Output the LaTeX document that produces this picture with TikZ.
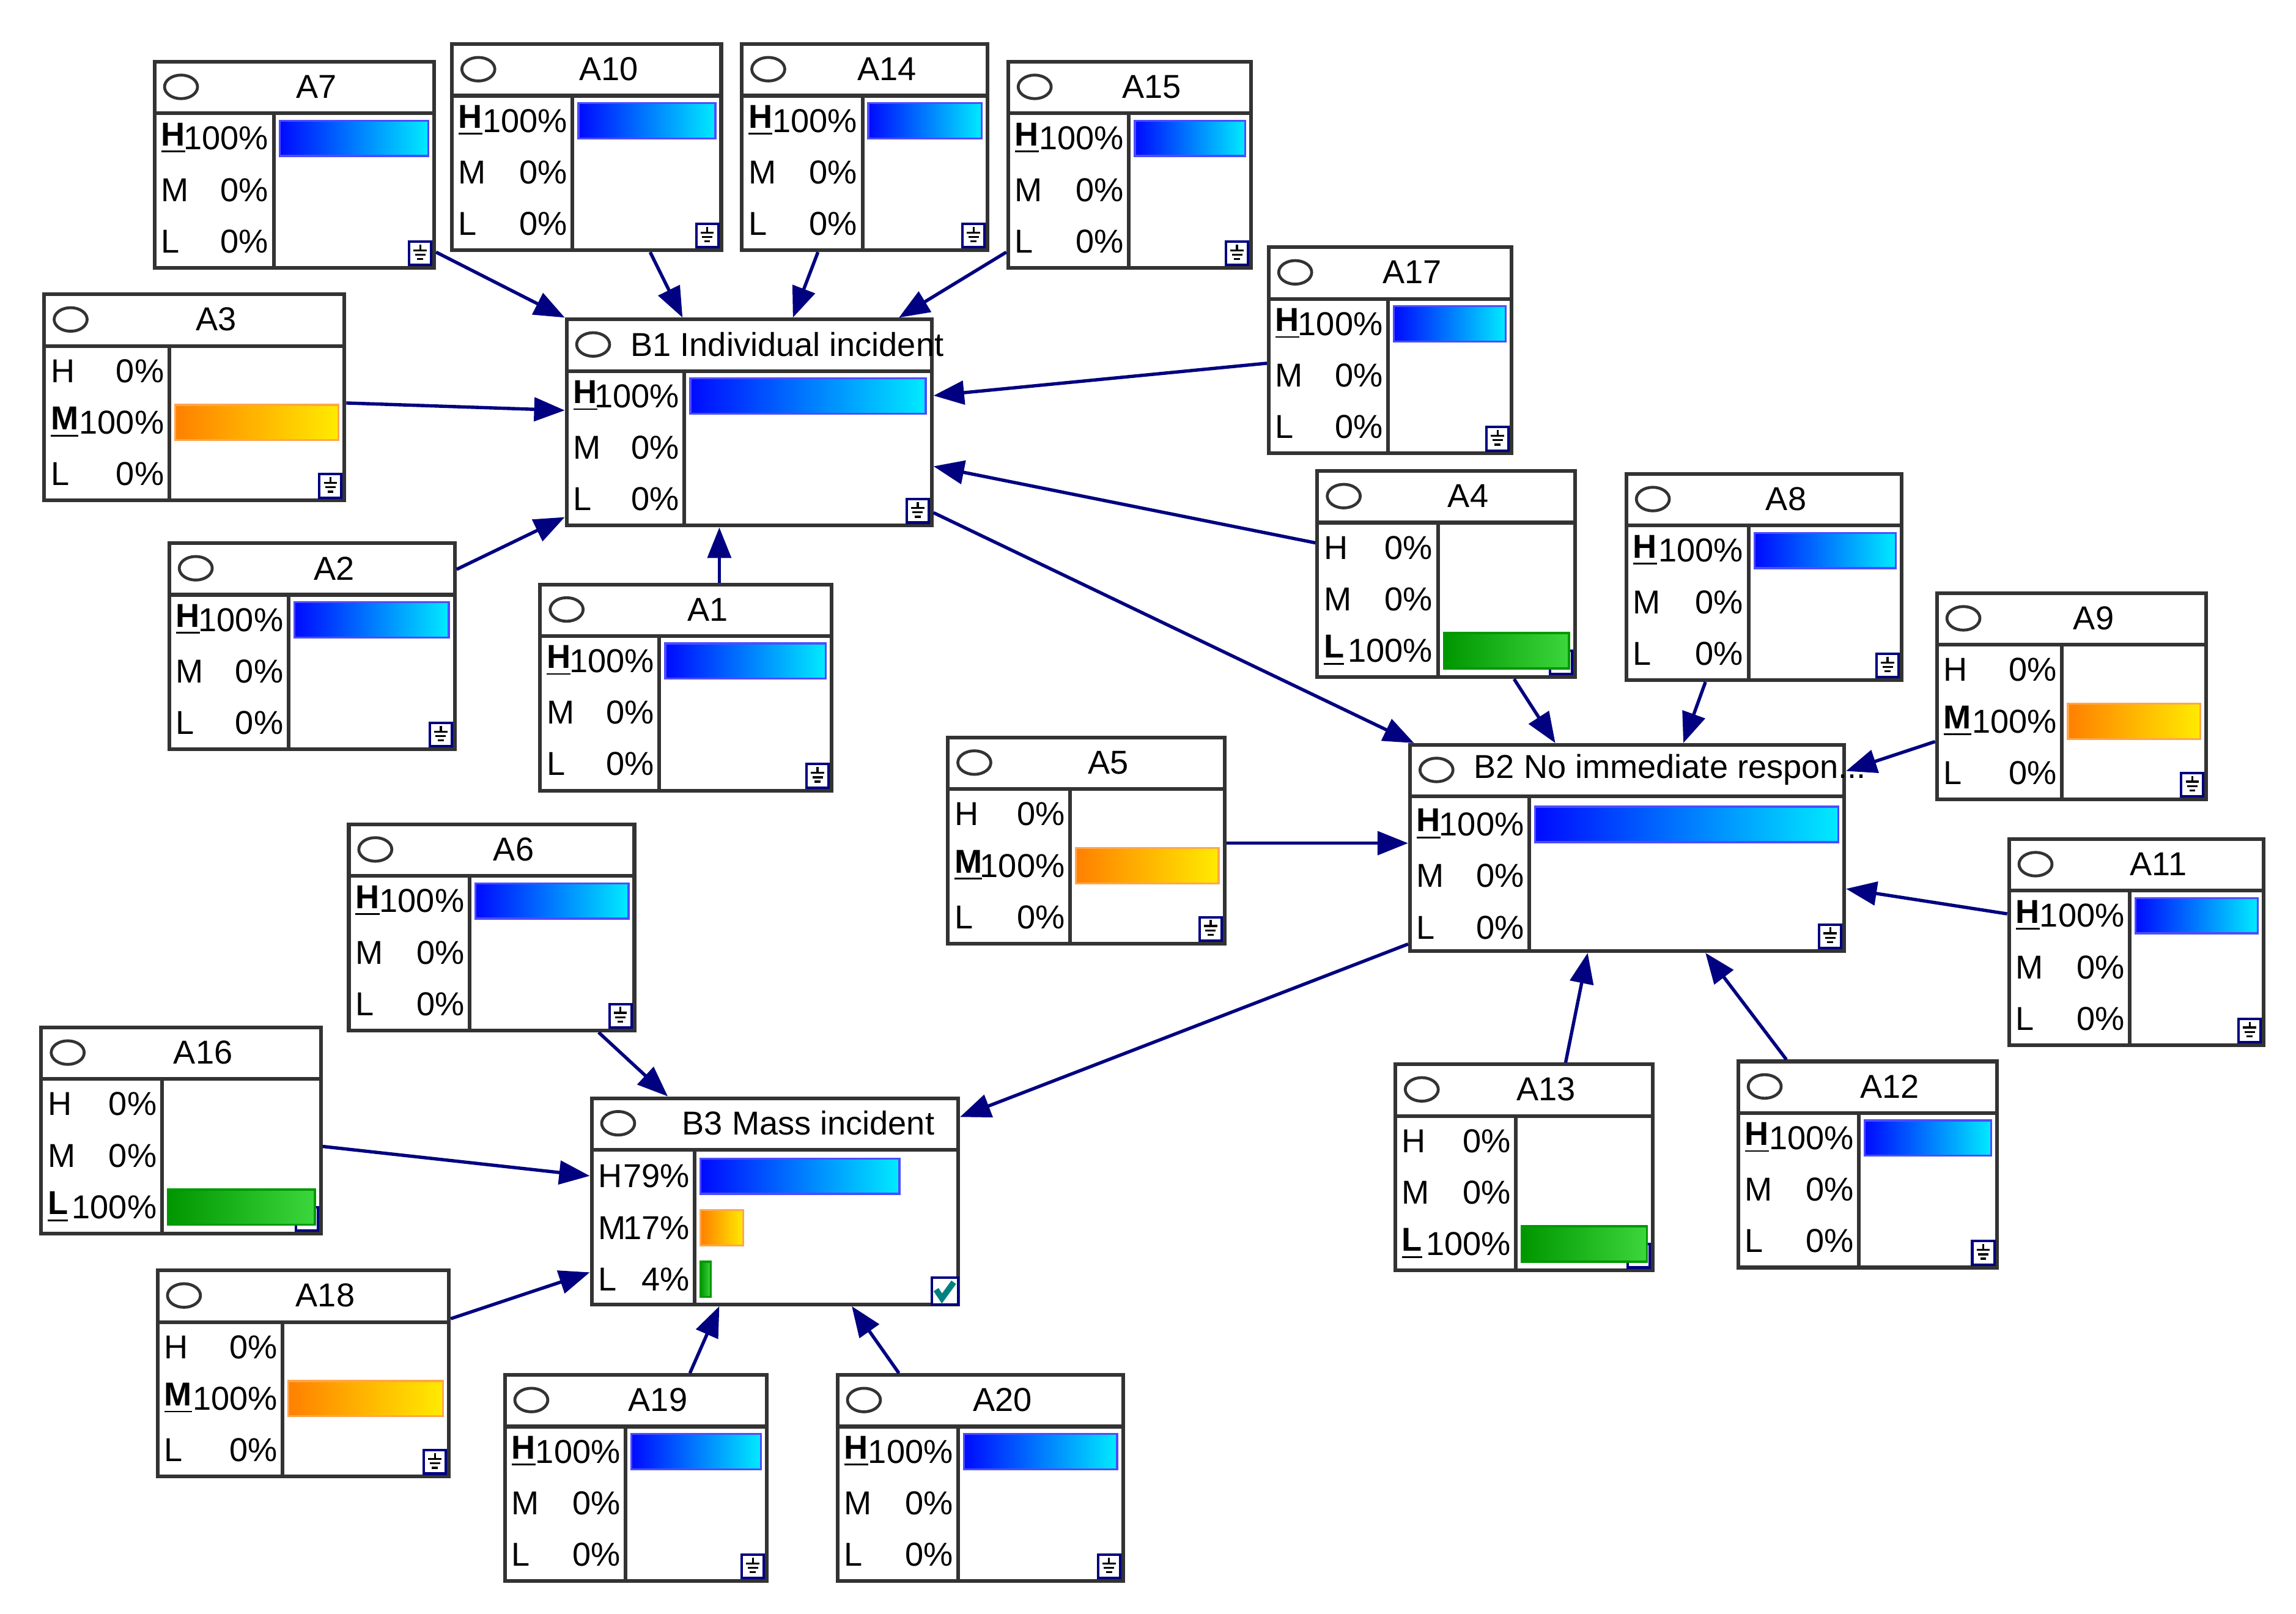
\documentclass[tikz,border=0pt]{standalone}
\usepackage{fontspec}
\setmainfont{Liberation Sans}
\usetikzlibrary{fit,calc,arrows.meta}
\definecolor{navy}{RGB}{0,0,128}
\definecolor{bblue}{RGB}{0,10,255}
\definecolor{bcyan}{RGB}{0,235,255}
\definecolor{borange}{RGB}{255,128,0}
\definecolor{byellow}{RGB}{255,235,0}
\definecolor{bgreen}{RGB}{0,150,0}
\definecolor{bgreen2}{RGB}{60,215,60}
\tikzset{
  box/.style={draw=black!80, line width=0.9pt, inner sep=0pt},
  txt/.style={font=\fontsize{8}{9}\selectfont, inner sep=0pt},
  edge/.style={navy, line width=0.8pt, -{Triangle[length=0.26cm,width=0.2cm]}},
  hbar/.style={left color=bblue, right color=bcyan, draw=blue!70, line width=0.5pt},
  mbar/.style={left color=borange, right color=byellow, draw=orange!70, line width=0.5pt},
  lbar/.style={left color=bgreen, right color=bgreen2, draw=green!60!black, line width=0.5pt},
}
% name x0 y0 x1 xd title
\newcommand\bnbox[6]{%
  \node[box, fit={(#2,#3)(#4,{#3+140})}] (#1) {};
  \draw[box] (#2,{#3+35}) -- (#4,{#3+35});
  \draw[box] (#5,{#3+35}) -- (#5,{#3+140});
  \draw[black!80, line width=0.7pt] ({#2+18},{#3+17}) ellipse [x radius=0.14cm, y radius=0.1cm];
}
\newcommand\icon[2]{% x1 y0
  \draw[navy, line width=0.6pt, fill=white] ({#1-17},{#2+122}) rectangle ({#1-2},{#2+138});
  \draw[black, line width=0.5pt] ({#1-9.5},{#2+124}) -- ({#1-9.5},{#2+128})
     ({#1-14},{#2+128}) -- ({#1-5},{#2+128})
     ({#1-13},{#2+131}) -- ({#1-6},{#2+131})
     ({#1-11.5},{#2+134}) -- ({#1-7.5},{#2+134});
}
\newcommand\lab[5]{% x0 xd y letter pct
  \node[txt, anchor=west] at ({#1+4},#3) {#4};
  \node[txt, anchor=east] at ({#2-3},#3) {#5};
}
\newcommand\pbar[5]{% style xd x1 y frac
  \draw[#1] ({#2+4},{#4-12}) rectangle ({#2+4+(#3-#2-8)*#5},{#4+12});
}
% name x0 y0 x1 xd title state(1,2,3)
\newcommand\anode[7]{%
  \bnbox{#1}{#2}{#3}{#4}{#5}{#6}
  \node[txt] at ({(#2+#4)/2+15},{#3+17}) {#6};
  \icon{#4}{#3}
  \ifcase#7\or
    \lab{#2}{#5}{#3+52}{\underline{\textbf{H}}}{100\%}
    \lab{#2}{#5}{#3+87}{M}{0\%}
    \lab{#2}{#5}{#3+122}{L}{0\%}
    \pbar{hbar}{#5}{#4}{#3+52}{1}
  \or
    \lab{#2}{#5}{#3+52}{H}{0\%}
    \lab{#2}{#5}{#3+87}{\underline{\textbf{M}}}{100\%}
    \lab{#2}{#5}{#3+122}{L}{0\%}
    \pbar{mbar}{#5}{#4}{#3+87}{1}
  \or
    \lab{#2}{#5}{#3+52}{H}{0\%}
    \lab{#2}{#5}{#3+87}{M}{0\%}
    \lab{#2}{#5}{#3+122}{\underline{\textbf{L}}}{100\%}
    \pbar{lbar}{#5}{#4}{#3+122}{1}
  \fi
}
\begin{document}
\begin{tikzpicture}[x=0.0125cm, y=-0.0125cm]
\useasboundingbox[fill=white] (0,0) rectangle (1560,1096);

\anode{A7}{105}{42}{295}{186}{A7}{1}
\anode{A10}{307}{30}{490}{389}{A10}{1}
\anode{A14}{504}{30}{671}{586}{A14}{1}
\anode{A15}{685}{42}{850}{767}{A15}{1}
\anode{A17}{862}{168}{1027}{943}{A17}{1}
\anode{A3}{30}{200}{234}{115}{A3}{2}
\anode{A2}{115}{369}{309}{196}{A2}{1}
\anode{A1}{367}{397}{565}{448}{A1}{1}
\anode{A4}{895}{320}{1070}{977}{A4}{3}
\anode{A8}{1105}{322}{1292}{1188}{A8}{1}
\anode{A9}{1316}{403}{1499}{1401}{A9}{2}
\anode{A5}{644}{501}{832}{727}{A5}{2}
\anode{A11}{1365}{570}{1538}{1447}{A11}{1}
\anode{A6}{237}{560}{431}{319}{A6}{1}
\anode{A16}{28}{698}{218}{110}{A16}{3}
\anode{A13}{948}{723}{1123}{1030}{A13}{3}
\anode{A12}{1181}{721}{1357}{1263}{A12}{1}
\anode{A18}{107}{863}{305}{192}{A18}{2}
\anode{A19}{343}{934}{521}{425}{A19}{1}
\anode{A20}{569}{934}{763}{651}{A20}{1}

% B1
\bnbox{B1}{385}{217}{633}{465}{B1}
\node[txt, anchor=west] at (428,234) {B1 Individual incident};
\icon{633}{217}
\lab{385}{465}{269}{\underline{\textbf{H}}}{100\%}
\lab{385}{465}{304}{M}{0\%}
\lab{385}{465}{339}{L}{0\%}
\pbar{hbar}{465}{633}{269}{1}

% B2
\bnbox{B2}{958}{506}{1253}{1039}{B2}
\node[txt, anchor=west] at (1001,523) {B2 No immediate respon...};
\icon{1253}{506}
\lab{958}{1039}{560}{\underline{\textbf{H}}}{100\%}
\lab{958}{1039}{595}{M}{0\%}
\lab{958}{1039}{630}{L}{0\%}
\pbar{hbar}{1039}{1253}{560}{1}

% B3
\bnbox{B3}{402}{746}{651}{472}{B3}
\node[txt, anchor=west] at (463,763) {B3 Mass incident};
\lab{402}{472}{799}{H}{79\%}
\lab{402}{472}{834}{M}{17\%}
\lab{402}{472}{869}{L}{4\%}
\pbar{hbar}{472}{651}{799}{0.79}
\pbar{mbar}{472}{651}{834}{0.17}
\pbar{lbar}{472}{651}{869}{0.04}
\draw[navy, line width=0.6pt, fill=white] (633,868) rectangle (651,886);
\draw[teal, line width=1.4pt] (636,876) -- (640,882) -- (648,871);

% edges
\draw[edge] ($(A7.south east)+(0,-12)$) -- (B1.north west);
\draw[edge] ($(A10.south west)+(136,0)$) -- ($(B1.north west)+(80,0)$);
\draw[edge] ($(A14.south west)+(53,0)$) -- ($(B1.north west)+(155,0)$);
\draw[edge] ($(A15.south west)+(0,-12)$) -- ($(B1.north west)+(227,0)$);
\draw[edge] ($(A3.north east)+(0,75)$) -- ($(B1.north west)+(0,63)$);
\draw[edge] ($(A17.north west)+(0,80)$) -- ($(B1.north east)+(0,53)$);
\draw[edge] ($(A2.north east)+(0,19)$) -- ($(B1.south west)+(0,-7)$);
\draw[edge] ($(A1.north west)+(123,0)$) -- ($(B1.south west)+(105,0)$);
\draw[edge] ($(A4.north west)+(0,50)$) -- ($(B1.north east)+(0,101)$);
\draw[edge] ($(B1.south east)+(0,-10)$) -- ($(B2.north west)+(4,0)$);
\draw[edge] ($(A4.south west)+(135,0)$) -- ($(B2.north west)+(100,0)$);
\draw[edge] ($(A8.south west)+(55,0)$) -- ($(B2.north west)+(187,0)$);
\draw[edge] ($(A9.north west)+(0,102)$) -- ($(B2.north east)+(0,19)$);
\draw[edge] ($(A5.north east)+(0,73)$) -- ($(B2.north west)+(0,68)$);
\draw[edge] ($(A11.north west)+(0,52)$) -- ($(B2.north east)+(0,99)$);
\draw[edge] ($(A13.north west)+(117,0)$) -- ($(B2.south west)+(122,0)$);
\draw[edge] ($(A12.north west)+(34,0)$) -- ($(B2.south west)+(202,0)$);
\draw[edge] ($(B2.south west)+(0,-6)$) -- ($(B3.north east)+(0,14)$);
\draw[edge] ($(A6.south west)+(171,0)$) -- ($(B3.north west)+(53,0)$);
\draw[edge] ($(A16.north east)+(0,82)$) -- ($(B3.north west)+(0,54)$);
\draw[edge] ($(A18.north east)+(0,34)$) -- ($(B3.south west)+(0,-23)$);
\draw[edge] ($(A19.north west)+(127,0)$) -- ($(B3.south west)+(88,0)$);
\draw[edge] ($(A20.north west)+(43,0)$) -- ($(B3.south west)+(178,0)$);
\end{tikzpicture}
\end{document}
